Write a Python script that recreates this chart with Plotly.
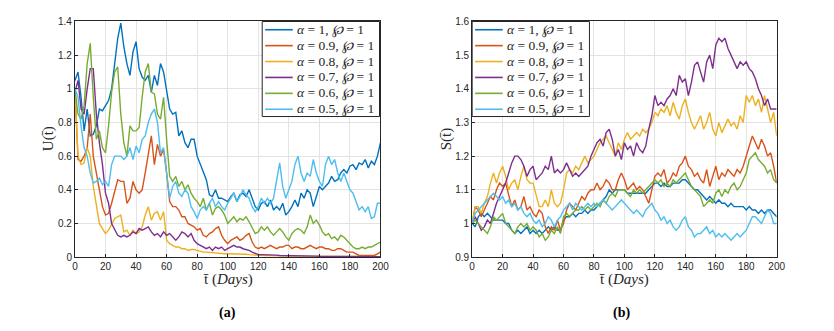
import plotly.graph_objects as go

# time grid (days), one sample every 2 days
DAYS = list(range(0, 201, 2))

LABELS = ["<i>α</i> = 1, <i>℘</i> = 1", "<i>α</i> = 0.9, <i>℘</i> = 1",
          "<i>α</i> = 0.8, <i>℘</i> = 1", "<i>α</i> = 0.7, <i>℘</i> = 1",
          "<i>α</i> = 0.6, <i>℘</i> = 1", "<i>α</i> = 0.5, <i>℘</i> = 1"]
COLORS = ["#0072BD", "#D95319", "#EDB120", "#7E2F8E", "#77AC30", "#4DBEEE"]

# panel (a): U(t)
U_a10 = [1.05, 1.1, 0.95, 0.75, 0.88, 0.72, 0.73, 0.78, 0.88, 0.87,
         0.9, 0.93, 1.0, 1.15, 1.3, 1.39, 1.25, 1.15, 1.08, 1.22,
         1.28, 1.12, 1.07, 1.05, 1.08, 0.98, 1.08, 1.02, 1.15, 1.1,
         0.98, 0.88, 0.85, 0.86, 0.72, 0.75, 0.68, 0.65, 0.7, 0.7,
         0.6, 0.55, 0.5, 0.46, 0.37, 0.36, 0.4, 0.35, 0.35, 0.34,
         0.33, 0.36, 0.38, 0.33, 0.37, 0.38, 0.36, 0.4, 0.35, 0.3,
         0.28, 0.32, 0.33, 0.3, 0.34, 0.28, 0.3, 0.28, 0.32, 0.25,
         0.27, 0.3, 0.34, 0.3, 0.38, 0.35, 0.4, 0.38, 0.3, 0.36,
         0.42, 0.4, 0.42, 0.44, 0.48, 0.45, 0.46, 0.5, 0.52, 0.5,
         0.54, 0.55, 0.52, 0.56, 0.55, 0.58, 0.53, 0.57, 0.55, 0.6,
         0.68]
U_a09 = [1.0, 0.58, 0.57, 0.6, 0.65, 0.85, 0.6, 0.5, 0.4, 0.3,
         0.25, 0.26, 0.32, 0.4, 0.46, 0.45, 0.45, 0.32, 0.35, 0.45,
         0.4, 0.38, 0.4, 0.5, 0.6, 0.72, 0.55, 0.67, 0.6, 0.64,
         0.5, 0.33, 0.3, 0.3, 0.28, 0.24, 0.24, 0.2, 0.19, 0.18,
         0.16, 0.17, 0.13, 0.12, 0.14, 0.15, 0.17, 0.18, 0.13, 0.1,
         0.08, 0.1, 0.11, 0.12, 0.1, 0.11, 0.13, 0.14, 0.09, 0.06,
         0.05, 0.06, 0.05, 0.06, 0.07, 0.06, 0.05, 0.06, 0.06, 0.07,
         0.07, 0.05, 0.06, 0.06, 0.05, 0.05, 0.06, 0.07, 0.06, 0.05,
         0.06, 0.06, 0.05, 0.05, 0.04, 0.04, 0.05, 0.05, 0.04, 0.03,
         0.03, 0.03, 0.02, 0.01, 0.01, 0.01, 0.01, 0.01, 0.01, 0.02,
         0.03]
U_a08 = [1.0, 0.6, 0.55, 0.56, 0.65, 0.6, 0.42, 0.3, 0.2, 0.17,
         0.14, 0.16, 0.2, 0.23, 0.24, 0.25, 0.15, 0.16, 0.13, 0.16,
         0.14, 0.15, 0.18, 0.25, 0.3, 0.22, 0.26, 0.27, 0.22, 0.27,
         0.1, 0.08, 0.07, 0.06, 0.06, 0.05, 0.05, 0.04, 0.045, 0.045,
         0.04, 0.035, 0.03, 0.03, 0.028, 0.025, 0.022, 0.02, 0.02, 0.02,
         0.02, 0.02, 0.018, 0.018, 0.02, 0.02, 0.017, 0.015, 0.013, 0.012,
         0.01, 0.01, 0.009, 0.009, 0.008, 0.008, 0.008, 0.007, 0.007, 0.007,
         0.006, 0.006, 0.006, 0.006, 0.005, 0.005, 0.005, 0.005, 0.005, 0.005,
         0.004, 0.004, 0.004, 0.004, 0.004, 0.004, 0.004, 0.003, 0.003, 0.003,
         0.003, 0.003, 0.003, 0.003, 0.003, 0.003, 0.003, 0.003, 0.003, 0.003,
         0.003]
U_a07 = [0.98, 1.05, 0.88, 0.85, 1.0, 1.12, 1.12, 0.85, 0.68, 0.55,
         0.38, 0.32, 0.2, 0.16, 0.13, 0.12, 0.13, 0.12, 0.13, 0.15,
         0.14, 0.17, 0.16, 0.17, 0.18, 0.15, 0.13, 0.14, 0.12, 0.15,
         0.13, 0.14, 0.12, 0.1, 0.12, 0.15, 0.14, 0.12, 0.14, 0.1,
         0.08, 0.07, 0.06, 0.05, 0.06, 0.04, 0.06, 0.05, 0.06, 0.04,
         0.05, 0.06, 0.07, 0.06, 0.06, 0.05, 0.045, 0.04, 0.03, 0.02,
         0.015, 0.015, 0.015, 0.014, 0.013, 0.013, 0.012, 0.01, 0.01, 0.009,
         0.008, 0.008, 0.008, 0.007, 0.007, 0.007, 0.006, 0.006, 0.006, 0.006,
         0.005, 0.005, 0.005, 0.005, 0.005, 0.004, 0.004, 0.004, 0.004, 0.004,
         0.004, 0.004, 0.003, 0.003, 0.003, 0.003, 0.003, 0.003, 0.003, 0.003,
         0.003]
U_a06 = [1.0, 0.85, 0.82, 0.9, 1.15, 1.27, 0.95, 0.7, 0.75, 0.65,
         0.62, 0.78, 0.98, 1.1, 1.13, 0.85, 0.68, 0.6, 0.78, 0.75,
         0.75, 0.77, 0.95, 1.1, 1.15, 0.98, 0.97, 0.85, 0.82, 0.95,
         0.7, 0.48, 0.45, 0.48, 0.42, 0.45, 0.4, 0.43, 0.38, 0.35,
         0.33, 0.3, 0.35, 0.28, 0.32, 0.25, 0.29, 0.3, 0.28, 0.25,
         0.2, 0.22, 0.24, 0.21, 0.23, 0.22, 0.24, 0.21, 0.17, 0.14,
         0.15, 0.18, 0.16, 0.18, 0.15, 0.13, 0.15, 0.17, 0.15, 0.12,
         0.1, 0.14, 0.16, 0.17, 0.16, 0.14, 0.18, 0.25, 0.2, 0.22,
         0.19, 0.15, 0.13, 0.14, 0.11, 0.12, 0.1, 0.13, 0.12, 0.1,
         0.08, 0.06, 0.05, 0.05, 0.06, 0.05, 0.06, 0.06, 0.07, 0.08,
         0.09]
U_a05 = [1.0, 0.95, 0.78, 0.65, 0.6, 0.5, 0.44, 0.45, 0.47, 0.43,
         0.45, 0.42, 0.55, 0.6, 0.6, 0.6, 0.58, 0.6, 0.65, 0.58,
         0.66, 0.62, 0.7, 0.72, 0.8, 0.85, 0.88, 0.8, 0.62, 0.65,
         0.5, 0.35, 0.42, 0.45, 0.38, 0.36, 0.4, 0.38, 0.3, 0.27,
         0.23, 0.28, 0.3, 0.28, 0.32, 0.35, 0.3, 0.33, 0.3, 0.28,
         0.32, 0.35, 0.38, 0.33, 0.36, 0.4, 0.37, 0.35, 0.3, 0.27,
         0.3, 0.35, 0.32, 0.35, 0.32, 0.35, 0.45, 0.56, 0.42, 0.35,
         0.4, 0.45, 0.55, 0.6, 0.5, 0.45, 0.5, 0.48, 0.58, 0.5,
         0.45, 0.42, 0.55, 0.6, 0.55, 0.58, 0.5, 0.45, 0.5, 0.45,
         0.4, 0.38, 0.33, 0.28, 0.3, 0.27, 0.3, 0.23, 0.24, 0.32,
         0.32]

# panel (b): S(t)
S_a10 = [1.0, 0.99, 1.02, 1.03, 1.02, 1.03, 1.02, 1.01, 1.01, 1.01,
         1.01, 1.0, 1.0, 0.98, 0.97, 0.98, 0.97, 0.98, 0.99, 0.97,
         0.98, 0.97, 0.98, 0.97, 0.98, 0.99, 0.98, 0.99, 0.98, 0.98,
         1.01, 1.02, 1.02, 1.03, 1.02, 1.03, 1.03, 1.04, 1.03, 1.04,
         1.04, 1.05, 1.06, 1.07, 1.08, 1.1, 1.09, 1.1, 1.1, 1.1,
         1.1, 1.09, 1.09, 1.09, 1.09, 1.09, 1.09, 1.09, 1.1, 1.11,
         1.12, 1.12, 1.11, 1.12, 1.11, 1.11, 1.12, 1.12, 1.12, 1.13,
         1.13, 1.12, 1.11, 1.1, 1.1, 1.09, 1.08, 1.07, 1.08, 1.07,
         1.06, 1.07, 1.06, 1.06, 1.05, 1.06, 1.05, 1.05, 1.05, 1.05,
         1.04, 1.05, 1.04, 1.04, 1.03, 1.04, 1.03, 1.04, 1.04, 1.03,
         1.02]
S_a09 = [1.0, 1.05, 1.04, 1.02, 1.04, 1.06, 1.08, 1.07, 1.1, 1.12,
         1.11, 1.12, 1.08, 1.05, 1.07, 1.04, 1.05, 1.08, 1.04, 1.05,
         1.03, 1.02, 1.04, 1.03, 0.99, 0.97, 0.99, 0.98, 1.01, 0.98,
         1.0, 1.04, 1.06, 1.05, 1.04, 1.06, 1.08, 1.07, 1.09, 1.1,
         1.1, 1.12, 1.1, 1.11, 1.13, 1.12, 1.1, 1.1, 1.13, 1.15,
         1.13, 1.1, 1.11, 1.12, 1.1, 1.11, 1.1, 1.08, 1.06, 1.1,
         1.14, 1.15, 1.14, 1.16, 1.12, 1.13, 1.15, 1.14, 1.17, 1.18,
         1.2, 1.17, 1.16, 1.14, 1.15, 1.13, 1.12, 1.16, 1.11, 1.14,
         1.17, 1.13, 1.15, 1.14, 1.16, 1.15, 1.14, 1.16, 1.15, 1.17,
         1.2, 1.23, 1.26, 1.24, 1.22, 1.25, 1.23, 1.2, 1.21, 1.17,
         1.12]
S_a08 = [1.0, 1.05, 1.05, 1.03, 1.06, 1.08, 1.12, 1.15, 1.12, 1.15,
         1.17, 1.14, 1.1, 1.12, 1.13, 1.1, 1.14, 1.17, 1.13, 1.12,
         1.12, 1.08, 1.05, 1.05, 1.07, 1.05, 1.1, 1.06, 1.05, 1.06,
         1.1, 1.15, 1.16, 1.15, 1.17, 1.16, 1.18, 1.2, 1.18, 1.19,
         1.2, 1.22, 1.24, 1.25, 1.26, 1.24, 1.22, 1.2, 1.24, 1.22,
         1.25, 1.27, 1.25, 1.26, 1.27, 1.26, 1.28, 1.27, 1.28, 1.3,
         1.33, 1.32, 1.34, 1.33, 1.35, 1.32, 1.36, 1.33, 1.31, 1.35,
         1.37, 1.33, 1.3, 1.28, 1.3, 1.32, 1.28, 1.3, 1.33, 1.28,
         1.26, 1.3, 1.27, 1.29, 1.31, 1.29, 1.3, 1.28, 1.32, 1.3,
         1.38, 1.36, 1.38, 1.35, 1.37, 1.33, 1.38, 1.34, 1.3, 1.33,
         1.26]
S_a07 = [1.0, 1.02, 1.0, 0.98, 0.99, 1.01, 1.0, 1.03, 1.06, 1.08,
         1.1, 1.12, 1.15, 1.18, 1.2, 1.2, 1.19, 1.17, 1.14, 1.16,
         1.17, 1.13, 1.14, 1.15, 1.17, 1.16, 1.2, 1.15, 1.16, 1.15,
         1.16, 1.18, 1.16, 1.14, 1.15, 1.14, 1.15, 1.16, 1.17, 1.2,
         1.22, 1.24, 1.25, 1.23, 1.27, 1.28, 1.25, 1.2, 1.22, 1.19,
         1.24, 1.22, 1.23, 1.2, 1.24, 1.22, 1.21, 1.23, 1.28, 1.32,
         1.38, 1.35, 1.36, 1.35, 1.37, 1.38, 1.4, 1.38, 1.44, 1.42,
         1.43, 1.38, 1.42, 1.47, 1.48, 1.45, 1.42, 1.48, 1.5, 1.46,
         1.53, 1.55, 1.54, 1.55, 1.52, 1.5, 1.48, 1.46, 1.48, 1.47,
         1.48, 1.46, 1.45, 1.43, 1.4, 1.38, 1.35, 1.37, 1.34, 1.34,
         1.34]
S_a06 = [1.0, 1.01, 1.0, 0.99, 0.98, 0.97, 0.99, 1.02, 1.01, 1.02,
         1.03, 1.0, 0.99, 0.98, 0.97, 0.99, 1.0, 0.99, 1.0, 0.98,
         0.99, 0.98, 0.96, 0.97, 0.95, 0.96, 0.98, 0.97, 0.99, 0.97,
         1.02, 1.03, 1.02, 1.03, 1.04, 1.04, 1.05, 1.04, 1.05, 1.04,
         1.05, 1.06, 1.05, 1.07, 1.06, 1.08, 1.09, 1.08, 1.1, 1.1,
         1.1, 1.09, 1.08, 1.1, 1.09, 1.1, 1.09, 1.1, 1.11, 1.12,
         1.13, 1.12, 1.13, 1.11, 1.12, 1.11, 1.13, 1.12, 1.13, 1.14,
         1.15, 1.13, 1.11, 1.1, 1.09, 1.08, 1.05, 1.06, 1.07, 1.06,
         1.09, 1.1, 1.08, 1.1, 1.09, 1.11, 1.12, 1.1, 1.11, 1.13,
         1.15, 1.19, 1.2, 1.21, 1.19, 1.18, 1.17, 1.15, 1.16, 1.13,
         1.12]
S_a05 = [1.0, 1.03, 1.04, 1.05, 1.06, 1.07, 1.08, 1.09, 1.08, 1.07,
         1.08, 1.06, 1.07, 1.05, 1.06, 1.04, 1.05, 1.03, 1.02, 1.03,
         1.01, 1.0, 1.01, 0.99, 1.0, 1.02, 1.01, 0.99, 1.01, 1.02,
         1.04, 1.05, 1.06, 1.04, 1.06, 1.05, 1.04, 1.05, 1.06, 1.05,
         1.06, 1.05, 1.06, 1.07, 1.06, 1.05, 1.04, 1.05, 1.06, 1.07,
         1.06, 1.05, 1.04, 1.03, 1.04, 1.03, 1.02, 1.04, 1.05, 1.06,
         1.04, 1.03, 1.01, 1.02, 1.0, 1.01, 0.99, 0.98, 0.99, 1.01,
         1.02, 0.99, 0.98, 0.96, 0.97, 0.97, 0.98, 0.99, 0.97, 0.98,
         0.96, 0.97, 0.96, 0.97, 0.96, 0.95, 0.96, 0.97, 0.96, 0.97,
         0.98, 1.0, 1.02, 1.02, 1.01, 1.0, 1.02, 1.04, 1.03, 1.0,
         1.0]

U_SERIES = [U_a10, U_a09, U_a08, U_a07, U_a06, U_a05]
S_SERIES = [S_a10, S_a09, S_a08, S_a07, S_a06, S_a05]

SERIF = "Liberation Serif, DejaVu Serif, serif"
SANS = "Liberation Sans, Arial, sans-serif"
W, H = 834, 331

fig = go.Figure()
for i in range(6):
    fig.add_trace(go.Scatter(x=DAYS, y=U_SERIES[i], mode="lines", name=LABELS[i],
                             line=dict(color=COLORS[i], width=1.4),
                             xaxis="x", yaxis="y", showlegend=False))
for i in range(6):
    fig.add_trace(go.Scatter(x=DAYS, y=S_SERIES[i], mode="lines", name=LABELS[i],
                             line=dict(color=COLORS[i], width=1.4),
                             xaxis="x2", yaxis="y2", showlegend=False))

# pixel boxes of the two panels (left, right, top, bottom)
A = (73, 383, 17, 260)
B = (476, 785, 17, 260)
def px(x): return x / W
def py(y): return 1 - y / H

axis_common = dict(showline=True, linecolor="#262626", linewidth=1, mirror=True,
                   ticks="inside", ticklen=3, tickcolor="#262626",
                   showgrid=True, gridcolor="#e3e3e3", gridwidth=1, zeroline=False,
                   tickfont=dict(family=SANS, size=10, color="#262626"))

fig.update_layout(
    width=W, height=H, margin=dict(l=0, r=0, t=0, b=0),
    plot_bgcolor="white", paper_bgcolor="white",
    xaxis=dict(domain=[px(A[0]), px(A[1])], range=[0, 200], dtick=20, anchor="y", **axis_common),
    yaxis=dict(domain=[py(A[3]), py(A[2])], range=[0, 1.4], dtick=0.2, anchor="x", **axis_common),
    xaxis2=dict(domain=[px(B[0]), px(B[1])], range=[0, 200], dtick=20, anchor="y2", **axis_common),
    yaxis2=dict(domain=[py(B[3]), py(B[2])], range=[0.9, 1.6], dtick=0.1, anchor="x2", **axis_common),
)

# legend boxes drawn MATLAB-style (compact rows): left, right, top, bottom in pixels
LEG = [(263, 382, 17, 115), (476, 595, 17, 115)]
ROW0, ROWSTEP = 25.5, 16.4
for (l, r, t, b) in LEG:
    fig.add_shape(type="rect", xref="paper", yref="paper",
                  x0=px(l), x1=px(r), y0=py(b), y1=py(t),
                  line=dict(color="#262626", width=1), fillcolor="white", layer="above")
    for i in range(6):
        yy = py(ROW0 + i * ROWSTEP)
        fig.add_shape(type="line", xref="paper", yref="paper",
                      x0=px(l + 3), x1=px(l + 31), y0=yy, y1=yy,
                      line=dict(color=COLORS[i], width=1.6), layer="above")
        fig.add_annotation(xref="paper", yref="paper", x=px(l + 33), y=yy,
                           text=LABELS[i], showarrow=False, xanchor="left", yanchor="middle",
                           font=dict(family=SERIF, size=13.5, color="#262626"))

title_font = dict(family=SERIF, size=15, color="#262626")
notes = [
    dict(x=px(228), y=py(283), text="t̄ (<i>Days</i>)", font=title_font),
    dict(x=px(630), y=py(283), text="t̄ (<i>Days</i>)", font=title_font),
    dict(x=px(46), y=py(138), text="U(t̄)", font=title_font, textangle=-90),
    dict(x=px(450), y=py(138), text="S(t̄)", font=title_font, textangle=-90),
    dict(x=px(228), y=py(318), text="<b>(a)</b>", font=dict(family=SERIF, size=14, color="black")),
    dict(x=px(628), y=py(318), text="<b>(b)</b>", font=dict(family=SERIF, size=14, color="black")),
]
for n in notes:
    fig.add_annotation(xref="paper", yref="paper", showarrow=False,
                       xanchor="center", yanchor="middle", **n)

# the page body has an 8px default margin; drop it so the figure sits at the window origin
fig.write_html("out.html", config={"displayModeBar": False},
               post_script="document.body.style.margin='0';")
